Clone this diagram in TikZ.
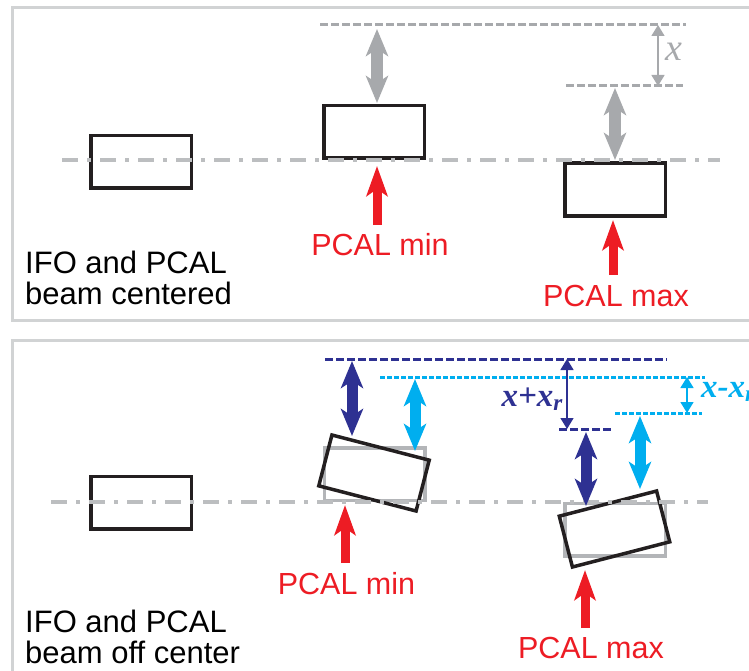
\documentclass[tikz,border=0pt]{standalone}
\usepackage{fontspec}
\setmainfont{Liberation Sans}
\newfontfamily\timesfont{Liberation Serif}
\usetikzlibrary{arrows.meta}
\definecolor{framegray}{HTML}{D1D3D4}
\definecolor{arrowgray}{HTML}{A7A9AC}
\definecolor{axisgray}{HTML}{BCBEC0}
\definecolor{boxgray}{HTML}{B3B5B8}
\definecolor{pcalred}{HTML}{ED1C24}
\definecolor{darkblue}{HTML}{2E3192}
\definecolor{lightblue}{HTML}{00AEEF}
\definecolor{boxblack}{HTML}{231F20}

\begin{document}
\begin{tikzpicture}[x=1pt, y=-1pt,
    mirror/.style={draw=boxblack, line width=3.5pt, rectangle, minimum width=100.5pt, minimum height=52.5pt, inner sep=0pt},
    ghost/.style={mirror, draw=boxgray},
    axis/.style={axisgray, line width=3.2pt, dash pattern=on 16pt off 9pt on 4pt off 9pt},
    level/.style={line width=3pt, dash pattern=on 7.5pt off 3.5pt},
    fatarrow/.style={line width=12.5pt, {Stealth[length=27pt, width=22pt, inset=7pt]}-{Stealth[length=27pt, width=22pt, inset=7pt]}},
    pcalarrow/.style={pcalred, line width=9pt, -{Stealth[length=30pt, width=21pt, inset=7pt]}},
    dimarrow/.style={line width=1.5pt, {Triangle[length=11pt, width=13pt]}-{Triangle[length=11pt, width=13pt]}},
    bigtext/.style={font=\fontsize{31}{36}\selectfont, anchor=base west, inner sep=0pt},
    pcaltext/.style={font=\fontsize{30.5}{36}\selectfont, text=pcalred, anchor=base, inner sep=0pt},
    symtext/.style={font=\timesfont\fontsize{38}{40}\selectfont\itshape, inner sep=0pt}]
\useasboundingbox (0,0) rectangle (749,671);
\clip (0,0) rectangle (749,671);

% panel frames
\draw[framegray, line width=3pt] (12,8) rectangle (790,320);
\draw[framegray, line width=3pt] (12,340) rectangle (790,720);

% ---------------- beam centered ----------------
\node[mirror] (ifoA) at (141,162) {};
\node[mirror] (minA) at (374,132) {};
\node[mirror] (maxA) at (615,189.5) {};
\draw[axis] (62,160) -- (720,160);

\coordinate (topA) at (320,25);
\coordinate (topAend) at (686,25);
\coordinate (lowA) at (566,86);
\coordinate (lowAend) at (683,86);
\draw[arrowgray, level] (topA) -- (topAend);
\draw[arrowgray, level] (lowA) -- (lowAend);

\coordinate (minAup) at (377,29);
\coordinate (minAdn) at (377,103);
\coordinate (maxAup) at (615,88);
\coordinate (maxAdn) at (615,160);
\draw[arrowgray, fatarrow] (minAup) -- (minAdn);
\draw[arrowgray, fatarrow] (maxAup) -- (maxAdn);

\coordinate (dimAtop) at (658,25);
\coordinate (dimAbot) at (658,86);
\draw[arrowgray, dimarrow] (dimAtop) -- (dimAbot);
\node[symtext, text=arrowgray, anchor=west] (xA) at (665,52) {x};

\coordinate (minAsrc) at (377,225);
\coordinate (minAhit) at (377,166);
\coordinate (maxAsrc) at (613,275);
\coordinate (maxAhit) at (613,220);
\draw[pcalarrow] (minAsrc) -- (minAhit);
\draw[pcalarrow] (maxAsrc) -- (maxAhit);
\node[pcaltext] (minAlabel) at (380,255) {PCAL min};
\node[pcaltext] (maxAlabel) at (616,306) {PCAL max};

\node[bigtext] (titleA1) at (25,273) {IFO and PCAL};
\node[bigtext] (titleA2) at (25,304) {beam centered};

% ---------------- beam off center ----------------
\node[mirror] (ifoB) at (141,502.5) {};
\node[ghost] (minBold) at (374.5,474) {};
\node[ghost] (maxBold) at (615,529.5) {};
\node[mirror, rotate=-14.5] (minB) at (374,473) {};
\node[mirror, rotate=14.5] (maxB) at (614.5,529) {};
\draw[axis] (51,502) -- (708,502);

\coordinate (topB) at (325,359);
\coordinate (topBend) at (667,359);
\coordinate (lowB) at (559,429);
\coordinate (lowBend) at (612,429);
\draw[darkblue, level] (topB) -- (topBend);
\draw[darkblue, level] (lowB) -- (lowBend);
\coordinate (topC) at (380,377);
\coordinate (topCend) at (705,377);
\coordinate (lowC) at (615,413);
\coordinate (lowCend) at (702,413);
\draw[lightblue, line width=3pt, dash pattern=on 4.5pt off 2.5pt] (topC) -- (topCend);
\draw[lightblue, line width=3pt, dash pattern=on 4.5pt off 2.5pt] (lowC) -- (lowCend);

\coordinate (minBup) at (352,361);
\coordinate (minBdn) at (352,436);
\coordinate (minCup) at (415,379);
\coordinate (minCdn) at (415,451);
\coordinate (maxBup) at (586,432);
\coordinate (maxBdn) at (586,506);
\coordinate (maxCup) at (640,416);
\coordinate (maxCdn) at (640,489);
\draw[darkblue, fatarrow, line width=11pt] (minBup) -- (minBdn);
\draw[lightblue, fatarrow, line width=11pt] (minCup) -- (minCdn);
\draw[darkblue, fatarrow, line width=11pt] (maxBup) -- (maxBdn);
\draw[lightblue, fatarrow, line width=11pt] (maxCup) -- (maxCdn);

\coordinate (dimBtop) at (567,359);
\coordinate (dimBbot) at (567,429);
\coordinate (dimCtop) at (687,377);
\coordinate (dimCbot) at (687,413);
\draw[darkblue, dimarrow] (dimBtop) -- (dimBbot);
\draw[lightblue, dimarrow] (dimCtop) -- (dimCbot);
\node[symtext, text=darkblue, anchor=east, font=\timesfont\fontsize{33}{36}\selectfont\bfseries\itshape] (xpB) at (563,399) {x+x\textsubscript{r}};
\node[symtext, text=lightblue, anchor=west, font=\timesfont\fontsize{33}{36}\selectfont\bfseries\itshape] (xmC) at (701,392) {x-x\textsubscript{r}};

\coordinate (minBsrc) at (345,563);
\coordinate (minBhit) at (345,505);
\coordinate (maxBsrc) at (585,628);
\coordinate (maxBhit) at (585,570);
\draw[pcalarrow] (minBsrc) -- (minBhit);
\draw[pcalarrow] (maxBsrc) -- (maxBhit);
\node[pcaltext] (minBlabel) at (346.5,594) {PCAL min};
\node[pcaltext] (maxBlabel) at (591,658) {PCAL max};

\node[bigtext] (titleB1) at (25,632) {IFO and PCAL};
\node[bigtext] (titleB2) at (25,663) {beam off center};
\end{tikzpicture}
\end{document}
